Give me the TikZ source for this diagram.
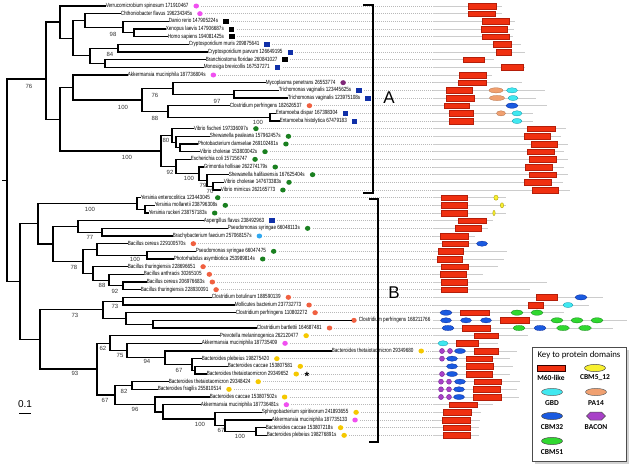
\documentclass[tikz,border=0pt]{standalone}
\usepackage{fontspec}
\setmainfont{Liberation Sans}
\newfontfamily\lblfont[FakeStretch=0.77]{Liberation Sans}
\newfontfamily\keyfont{Carlito}
\usetikzlibrary{shapes.geometric,calc}
\definecolor{mag}{RGB}{240,80,240}
\definecolor{bsq}{RGB}{16,48,168}
\definecolor{pur}{RGB}{128,40,120}
\definecolor{org}{RGB}{240,96,64}
\definecolor{grn}{RGB}{26,128,32}
\definecolor{lblue}{RGB}{48,168,240}
\definecolor{yel}{RGB}{245,200,0}
\definecolor{m60c}{RGB}{240,48,16}
\definecolor{m60d}{RGB}{180,30,10}
\definecolor{pac}{RGB}{240,160,112}
\definecolor{pad}{RGB}{176,110,70}
\definecolor{gbdc}{RGB}{64,232,240}
\definecolor{gbdd}{RGB}{20,150,170}
\definecolor{cbc}{RGB}{26,90,224}
\definecolor{cbd}{RGB}{10,40,150}
\definecolor{cgc}{RGB}{48,216,48}
\definecolor{cgd}{RGB}{20,130,26}
\definecolor{bacc}{RGB}{168,64,200}
\definecolor{bacd}{RGB}{110,30,140}
\definecolor{cyc}{RGB}{248,240,48}
\definecolor{cyd}{RGB}{160,144,0}
\newcommand\ry[1]{\pgfmathsetmacro\lfy{6+(#1-1)*7.6667}}
\begin{document}
\begin{tikzpicture}[x=1pt,y=-1pt,
  br/.style={line width=1.2pt, line cap=rect, black},
  leaflbl/.style={anchor=west, inner sep=0.6pt, font=\lblfont\fontsize{6}{6}\selectfont, text height=4.3pt, text depth=1.2pt},
  bs/.style={inner sep=0pt, font=\fontsize{6}{6}\selectfont, text=black!80},
  icon/.style={inner sep=0pt, anchor=west},
  dmag/.style={icon, ellipse, fill=mag, minimum width=5.5pt, minimum height=5pt},
  dpur/.style={icon, ellipse, fill=pur, minimum width=5.5pt, minimum height=5pt},
  dorg/.style={icon, ellipse, fill=org, minimum width=5.5pt, minimum height=5pt},
  dgrn/.style={icon, ellipse, fill=grn, minimum width=5.5pt, minimum height=5pt},
  dlb/.style={icon, ellipse, fill=lblue, minimum width=5.5pt, minimum height=5pt},
  dyel/.style={icon, ellipse, fill=yel, minimum width=5.5pt, minimum height=5pt},
  sqk/.style={icon, rectangle, fill=black, minimum width=5.5pt, minimum height=5pt},
  sqb/.style={icon, rectangle, fill=bsq, minimum width=5.5pt, minimum height=5pt},
  dotl/.style={gray!55, line width=0.45pt, dash pattern=on 0.8pt off 1.2pt},
  archl/.style={gray!40, line width=0.9pt},
  m60s/.style={fill=m60c, draw=m60d, line width=0.4pt},
  pas/.style={fill=pac, draw=pad, line width=0.3pt},
  gbds/.style={fill=gbdc, draw=gbdd, line width=0.3pt},
  cbs/.style={fill=cbc, draw=cbd, line width=0.3pt},
  cgs/.style={fill=cgc, draw=cgd, line width=0.3pt},
  bacs/.style={fill=bacc, draw=bacd, line width=0.3pt},
  cys/.style={fill=cyc, draw=cyd, line width=0.3pt},
  brk/.style={line width=1.3pt, black},
  klab/.style={inner sep=0pt, font=\keyfont\bfseries\fontsize{7.5}{7.5}\selectfont}
]
\useasboundingbox (0,0) rectangle (630,467);
\newcommand\lf[5]{%
  \ry{#1}%
  \node[leaflbl] (L#1) at (#3,\lfy) {#4};
  \node[#5] (I#1) at ([xshift=4pt]L#1.east) {};
  \draw[br] (#2) |- (L#1.west);
  \draw[dotl] ([xshift=2pt]I#1.east) -- (433,\lfy);
}
\newcommand\al[2]{\ry{#1}\draw[archl] (433,\lfy) -- (#2,\lfy);}
\newcommand\mr[3]{\ry{#1}\filldraw[m60s] (#2,{\lfy-2.9}) rectangle (#3,{\lfy+2.9});}
\newcommand\de[4]{\ry{#2}\filldraw[#1] (#3,\lfy) ellipse [x radius=#4pt, y radius=2.6pt];}
% internal nodes
\coordinate (R0) at (3,180.8);
\coordinate (R) at (7,180.8);
\coordinate (nA) at (46,79);
\coordinate (nA1) at (60,22);
\coordinate (nC1) at (73,38.1);
\coordinate (nX) at (85,20.4);
\coordinate (nVert) at (123,27.2);
\coordinate (nXH) at (134,32.8);
\coordinate (nCr) at (90,55.8);
\coordinate (nCm) at (118,48.2);
\coordinate (nBM) at (105,63.5);
\coordinate (nA2) at (60,119.2);
\coordinate (nAk) at (73,87.5);
\coordinate (n142) at (142,99.9);
\coordinate (n173) at (173,88.4);
\coordinate (nTr) at (234,94.2);
\coordinate (n168) at (168,111.4);
\coordinate (nEn) at (270,117.2);
\coordinate (nVib) at (161,151);
\coordinate (nV1) at (172,135.4);
\coordinate (nSP) at (176,142.1);
\coordinate (nPV) at (180,147.8);
\coordinate (nV2) at (176,166.5);
\coordinate (nG) at (199,173.7);
\coordinate (nH) at (207,180.4);
\coordinate (nI) at (213,186.2);
\coordinate (nB) at (20,281.6);
\coordinate (nB1) at (38,223.7);
\coordinate (nY) at (137,203.4);
\coordinate (nYm) at (145,209.2);
\coordinate (n53) at (53,243.9);
\coordinate (n77a) at (78,226.4);
\coordinate (n101) at (102,232.2);
\coordinate (n77b) at (83,261.4);
\coordinate (n97) at (97,249.4);
\coordinate (nPP) at (147,255.2);
\coordinate (nBc) at (93,273.4);
\coordinate (nBa) at (109,280.1);
\coordinate (nBcc) at (123,285.8);
\coordinate (nB2) at (40,339.4);
\coordinate (nC) at (103,309.8);
\coordinate (nCb) at (123,301.2);
\coordinate (n126) at (126,318.4);
\coordinate (n153) at (153,324.2);
\coordinate (nD) at (97,369);
\coordinate (nE) at (110,343.1);
\coordinate (nF) at (127,350.5);
\coordinate (nG2) at (165,357.7);
\coordinate (nH2) at (192,364.4);
\coordinate (nBB) at (195,370.2);
\coordinate (nJ) at (115,395);
\coordinate (nK) at (132,385.5);
\coordinate (nL) at (155,404.4);
\coordinate (nM) at (163,411.9);
\coordinate (nN) at (215,419);
\coordinate (nO) at (225,425.8);
\coordinate (nP) at (256,431.5);
\draw[br] (R0) -- (R);
\foreach \p/\c in {R/nA,R/nB,nA/nA1,nA/nA2,nA1/nC1,nC1/nX,nC1/nCr,nX/nVert,nVert/nXH,nCr/nCm,nCr/nBM,
  nA2/nAk,nA2/nVib,nAk/n142,n142/n173,n142/n168,n173/nTr,n168/nEn,nVib/nV1,nVib/nV2,nV1/nSP,nSP/nPV,
  nV2/nG,nG/nH,nH/nI,nB/nB1,nB/nB2,nB1/nY,nB1/n53,nY/nYm,n53/n77a,n53/n77b,n77a/n101,n77b/n97,n77b/nBc,
  n97/nPP,nBc/nBa,nBa/nBcc,nB2/nC,nB2/nD,nC/nCb,nC/n126,n126/n153,nD/nE,nD/nJ,nE/nF,nF/nG2,nG2/nH2,
  nH2/nBB,nJ/nK,nJ/nL,nL/nM,nM/nN,nN/nO,nO/nP}
  {\draw[br] (\p) |- (\c);}
% leaves
\lf{1}{nA1}{105}{Verrucomicrobium spinosum 171910467}{dmag}
\lf{2}{nX}{120}{Chthoniobacter flavus 196234345s}{dmag}
\lf{3}{nVert}{168}{Danio rerio 147905224s}{sqk}
\lf{4}{nXH}{165}{Xenopus laevis 147906687s}{sqk}
\lf{5}{nXH}{167}{Homo sapiens 194081425s}{sqk}
\lf{6}{nCm}{188}{Cryptosporidium muris 209875641}{sqb}
\lf{7}{nCm}{207}{Cryptosporidium parvum 126649195}{sqb}
\lf{8}{nBM}{205}{Branchiostoma floridae 260841027}{sqk}
\lf{9}{nBM}{203}{Monosiga brevicollis 167537271}{sqb}
\lf{10}{nAk}{127}{Akkermansia muciniphila 187736804s}{dmag}
\lf{11}{n173}{265}{Mycoplasma penetrans 26553774}{dpur}
\lf{12}{nTr}{278}{Trichomonas vaginalis 123445625s}{sqb}
\lf{13}{nTr}{287}{Trichomonas vaginalis 123975108s}{sqb}
\lf{14}{n168}{229}{Clostridium perfringens 182626537}{dorg}
\lf{15}{nEn}{275}{Entamoeba dispar 167398304}{sqb}
\lf{16}{nEn}{279}{Entamoeba histolytica 67479183}{sqb}
\lf{17}{nV1}{193}{Vibrio fischeri 197336097s}{dgrn}
\lf{18}{nSP}{209}{Shewanella pealeana 157962457s}{dgrn}
\lf{19}{nPV}{197}{Photobacterium damselae 269102481s}{dgrn}
\lf{20}{nPV}{199}{Vibrio cholerae 153803042s}{dgrn}
\lf{21}{nV2}{190}{Escherichia coli 157156747}{dgrn}
\lf{22}{nG}{203}{Grimontia hollisae 262274179s}{dgrn}
\lf{23}{nH}{228}{Shewanella halifaxensis 167625404s}{dgrn}
\lf{24}{nI}{223}{Vibrio cholerae 147673383s}{dgrn}
\lf{25}{nI}{220}{Vibrio mimicus 262165773}{dgrn}
\lf{26}{nY}{140}{Yersinia enterocolitica 123443045}{dgrn}
\lf{27}{nYm}{154}{Yersinia mollaretii 238796308s}{dgrn}
\lf{28}{nYm}{148}{Yersinia ruckeri 238757183s}{dgrn}
\lf{29}{n77a}{203}{Aspergillus flavus 238492963}{sqb}
\lf{30}{n101}{227}{Pseudomonas syringae 66048113s}{dgrn}
\lf{31}{n101}{172}{Brachybacterium faecium 257068157s}{dlb}
\lf{32}{n97}{127}{Bacillus cereus 229100570s}{dorg}
\lf{33}{nPP}{195}{Pseudomonas syringae 66047475}{dgrn}
\lf{34}{nPP}{173}{Photorhabdus asymbiotica 253989814s}{dgrn}
\lf{35}{nBc}{127}{Bacillus thuringiensis 228696651}{dorg}
\lf{36}{nBa}{143}{Bacillus anthracis 30265105}{dorg}
\lf{37}{nBcc}{146}{Bacillus cereus 206976683s}{dorg}
\lf{38}{nBcc}{140}{Bacillus thuringiensis 228930091}{dorg}
\lf{39}{nCb}{211}{Clostridium botulinum 188590139}{dorg}
\lf{40}{nCb}{234}{Mollicutes bacterium 237732773}{dorg}
\lf{41}{n126}{235}{Clostridium perfringens 110802272}{dorg}
\ry{42}
\node[dorg] (I42) at (351,\lfy) {};
\node[leaflbl] (L42) at (358,\lfy) {Clostridium perfringens 168211766};
\draw[br] (n153) |- (I42.west);
\lf{43}{n153}{256}{Clostridium bartlettii 164687481}{dorg}
\lf{44}{nE}{219}{Prevotella melaninogenica 262120477}{dyel}
\lf{45}{nF}{201}{Akkermansia muciniphila 187735409}{dmag}
\lf{46}{nG2}{331}{Bacteroides thetaiotaomicron 29349680}{dyel}
\lf{47}{nH2}{201}{Bacteroides plebeius 198275420}{dyel}
\lf{48}{nBB}{227}{Bacteroides caccae 153807581}{dyel}
\lf{49}{nBB}{206}{Bacteroides thetaiotaomicron 29349652}{dyel}
\lf{50}{nK}{168}{Bacteroides thetaiotaomicron 29348424}{dyel}
\lf{51}{nK}{157}{Bacteroides fragilis 255810514}{dyel}
\lf{52}{nL}{209}{Bacteroides caccae 153807502s}{dyel}
\lf{53}{nM}{200}{Akkermansia muciniphila 187736481s}{dmag}
\lf{54}{nN}{261}{Sphingobacterium spiritivorum 241893655}{dyel}
\lf{55}{nO}{271}{Akkermansia muciniphila 187735133}{dmag}
\lf{56}{nP}{265}{Bacteroides caccae 153807218s}{dyel}
\lf{57}{nP}{266}{Bacteroides plebeius 198276891s}{dyel}
\node[inner sep=0pt, font=\bfseries\fontsize{12}{12}\selectfont] (star) at (307,376.5) {*};
% bootstrap values
\foreach \n/\x/\y/\t in {b1/29/86/76,b2/113/34/98,b3/110/54/84,b4/155/95/76,b5/123/107/100,b6/217/101/97,
  b7/155/118/88,b8/258/122/100,b9/166/140/80,b10/127/157/100,b11/170/172/92,b12/189/178/100,b13/203/185/79,
  b14/210/191/70,b15/90/209/100,b16/90/237/77,b17/135/259/100,b18/74/267/78,b19/102/285/88,b20/115/291/92,
  b21/115/306/73,b22/75/315/73,b23/103/348/62,b24/120/355/75,b25/147/361/94,b26/179/370/67,b27/75/373/93,
  b28/124/391/82,b29/105/400/67,b30/135/409/96,b31/200/424/100,b32/221/430/67,b33/240/436/100}
  {\node[bs] (\n) at (\x,\y) {\t};}
% scale bar
\node[inner sep=0pt, font=\fontsize{10}{10}\selectfont] (sc) at (25,404) {0.1};
\draw[line width=1.2pt] (19,413.5) -- (31,413.5);
% brackets
\draw[brk] (363,5) -- (373,5) -- (373,193) -- (363,193);
\draw[brk] (369,199) -- (378,199) -- (378,442) -- (369,442);
\node[inner sep=0pt, font=\fontsize{17}{17}\selectfont] (lA) at (389,98) {A};
\node[inner sep=0pt, font=\fontsize{17}{17}\selectfont] (lB) at (394,293) {B};
% domain architectures
\al{1}{502}\mr{1}{468}{496}
\al{2}{502}\mr{2}{468}{495}
\al{3}{515}\mr{3}{482}{509}
\al{4}{514}\mr{4}{481}{507}
\al{5}{513}\mr{5}{482}{509}
\al{6}{521}\mr{6}{493}{511}
\al{7}{525}\mr{7}{496}{511}
\al{8}{494}\mr{8}{463}{484}
\al{9}{525}\mr{9}{501}{523}
\al{10}{492}\mr{10}{459}{486}
\al{11}{522}\mr{11}{458}{486}
\al{12}{545}\mr{12}{446}{472}\de{pas}{12}{496}{7}\de{gbds}{12}{512}{5.5}
\al{13}{536}\mr{13}{446}{474}\de{pas}{13}{497}{7.5}\de{gbds}{13}{513}{5}
\al{14}{547}\mr{14}{444}{469}\de{cbs}{14}{512}{6}
\al{15}{533}\mr{15}{449}{473}\de{pas}{15}{501}{4.5}\de{gbds}{15}{517}{5}
\al{16}{533}\mr{16}{449}{473}\de{gbds}{16}{517}{5}
\al{17}{566}\mr{17}{527}{555}
\al{18}{561}\mr{18}{524}{550}
\al{19}{568}\mr{19}{531}{557}
\al{20}{564}\mr{20}{527}{554}
\al{21}{568}\mr{21}{529}{556}
\al{22}{564}\mr{22}{525}{552}
\al{23}{568}\mr{23}{529}{556}
\al{24}{563}\mr{24}{524}{551}
\al{25}{570}\mr{25}{532}{558}
\al{26}{506}\mr{26}{441}{467}\de{cys}{26}{496}{2.2}
\al{27}{506}\mr{27}{441}{467}\de{cys}{27}{502}{1.7}
\al{28}{506}\mr{28}{441}{467}\de{cys}{28}{494}{1.2}
\al{29}{493}\mr{29}{458}{486}
\al{30}{488}\mr{30}{455}{481}
\al{31}{475}\mr{31}{440}{468}
\al{32}{488}\mr{32}{442}{468}\de{cbs}{32}{482}{5.5}
\al{33}{507}\mr{33}{438}{463}
\al{34}{504}\mr{34}{437}{462}
\al{35}{498}\mr{35}{441}{468}
\al{36}{483}\mr{36}{440}{466}
\al{37}{547}\mr{37}{441}{467}
\al{38}{530}\mr{38}{441}{467}
\al{39}{603}\mr{39}{536}{557}\de{cbs}{39}{581}{6}
\al{40}{589}\mr{40}{528}{543}\de{gbds}{40}{568}{5}
\al{41}{564}\de{cbs}{41}{446}{6}\mr{41}{460}{489}\de{cgs}{41}{517}{6}\de{cgs}{41}{537}{6}
\al{42}{627}\de{cbs}{42}{446}{5.5}\de{cbs}{42}{466}{5.5}\de{cbs}{42}{486}{5.5}\mr{42}{500}{529}\de{cgs}{42}{557}{6}\de{cgs}{42}{577}{6}\de{cgs}{42}{597}{6}
\al{43}{613}\de{cbs}{43}{448}{6}\mr{43}{462}{490}\de{cgs}{43}{519}{6}\de{cbs}{43}{540}{6}\de{cgs}{43}{563}{6.5}\de{cgs}{43}{585}{6.5}
\al{44}{528}\mr{44}{474}{498}
\al{45}{498}\de{gbds}{45}{443}{5}\mr{45}{456}{478}
\al{46}{517}\de{bacs}{46}{442}{2.5}\de{bacs}{46}{450}{2.5}\de{cbs}{46}{460}{5.5}\mr{46}{474}{498}
\al{47}{510}\de{bacs}{47}{442}{2.5}\de{cbs}{47}{452}{5.5}\mr{47}{466}{492}
\al{48}{513}\de{cbs}{48}{452}{5.5}\mr{48}{466}{493}
\al{49}{510}\de{bacs}{49}{442}{2.5}\de{cbs}{49}{452}{5.5}\mr{49}{466}{492}
\al{50}{520}\de{bacs}{50}{441}{2.5}\de{bacs}{50}{449}{2.5}\de{cbs}{50}{460}{5.5}\mr{50}{474}{501}
\al{51}{517}\de{bacs}{51}{441}{2.5}\de{bacs}{51}{449}{2.5}\de{cbs}{51}{459}{5.5}\mr{51}{473}{500}
\al{52}{519}\de{bacs}{52}{441}{2.5}\de{bacs}{52}{449}{2.5}\de{cbs}{52}{459}{5.5}\mr{52}{473}{501}
\al{53}{493}\mr{53}{449}{477}
\al{54}{481}\mr{54}{443}{471}
\al{55}{480}\mr{55}{442}{470}
\al{56}{479}\mr{56}{443}{470}
\al{57}{479}\mr{57}{443}{470}
% legend
\fill[gray!35] (534.5,349.5) rectangle (628.5,463.5);
\node[draw=gray!60!black, line width=0.8pt, fill=white, minimum width=94pt, minimum height=114pt, inner sep=0pt, anchor=north west] (key) at (532,347) {};
\node[inner sep=0pt, font=\keyfont\fontsize{8.8}{8.8}\selectfont] (kt) at (579,355) {Key to protein domains};
\filldraw[m60s, draw=black!80!red, line width=0.6pt] (537,365) rectangle (565,371.5);
\node[klab] (k1) at (551,378) {M60-like};
\filldraw[cys, draw=black!70, line width=0.5pt] (595,368) ellipse [x radius=10.5pt, y radius=3.6pt];
\node[klab] (k2) at (595,378) {CBM5\_12};
\filldraw[gbds, draw=black!60, line width=0.5pt] (552,392) ellipse [x radius=10.5pt, y radius=3.6pt];
\node[klab] (k3) at (552,403) {GBD};
\filldraw[pas, draw=black!60, line width=0.5pt] (596,392) ellipse [x radius=10.5pt, y radius=3.6pt];
\node[klab] (k4) at (596,403) {PA14};
\filldraw[cbs, draw=black!70, line width=0.5pt] (552,416) ellipse [x radius=10.5pt, y radius=3.6pt];
\node[klab] (k5) at (552,427) {CBM32};
\filldraw[bacs, draw=black!70, line width=0.5pt] (586.5,416) -- (590.5,412) -- (601.5,412) -- (605.5,416) -- (601.5,420) -- (590.5,420) -- cycle;
\node[klab] (k6) at (596,427) {BACON};
\filldraw[cgs, draw=black!70, line width=0.5pt] (552,441) ellipse [x radius=10.5pt, y radius=3.6pt];
\node[klab] (k7) at (552,452) {CBM51};
\end{tikzpicture}
\end{document}
